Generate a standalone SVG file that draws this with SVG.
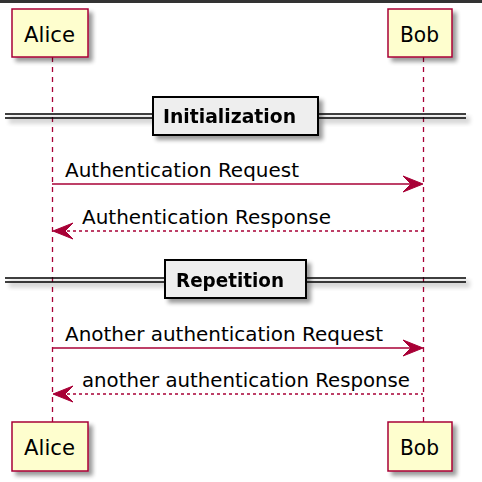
<svg xmlns="http://www.w3.org/2000/svg" width="482" height="482" viewBox="0 0 482 482">
<style>
text{font-family:"DejaVu Sans","Liberation Sans",sans-serif;fill:#000}
.p{fill:#FEFECE;stroke:#A80036;stroke-width:1.5}
.pt{font-size:21px}
.life{stroke:#A80036;stroke-width:1.3;stroke-dasharray:5,5}
.msg{stroke:#A80036;stroke-width:1.3;fill:none}
.dash{stroke-dasharray:3,3}
.head{fill:#A80036;stroke:#A80036}
.dl{stroke:#000;stroke-width:1.5;fill:none}
.db{fill:#EEEEEE;stroke:#000;stroke-width:2}
.dt{font-size:19px;font-weight:bold}
.mt{font-size:20px}
</style>
<defs>
<filter id="sh" x="-20%" y="-20%" width="150%" height="150%">
<feGaussianBlur in="SourceAlpha" stdDeviation="2"/>
<feOffset dx="4" dy="4" result="b"/>
<feComponentTransfer><feFuncA type="linear" slope="0.4"/></feComponentTransfer>
<feMerge><feMergeNode/><feMergeNode in="SourceGraphic"/></feMerge>
</filter>
</defs>
<rect x="0" y="0" width="482" height="482" fill="#fff"/>
<rect x="0" y="0" width="482" height="3" fill="#333"/>
<g id="lifelines">
<line class="life" x1="52.5" y1="57" x2="52.5" y2="422"/>
<line class="life" x1="423.5" y1="57" x2="423.5" y2="422"/>
</g>
<g id="alice-top"><rect class="p" x="12" y="9" width="76" height="48" filter="url(#sh)"/><text class="pt" x="24" y="42" textLength="51" lengthAdjust="spacingAndGlyphs">Alice</text></g>
<g id="bob-top"><rect class="p" x="388" y="9" width="64" height="48" filter="url(#sh)"/><text class="pt" x="400" y="42" textLength="39" lengthAdjust="spacingAndGlyphs">Bob</text></g>
<g id="alice-bottom"><rect class="p" x="12" y="422" width="76" height="49" filter="url(#sh)"/><text class="pt" x="24" y="455" textLength="51" lengthAdjust="spacingAndGlyphs">Alice</text></g>
<g id="bob-bottom"><rect class="p" x="388" y="422" width="64" height="49" filter="url(#sh)"/><text class="pt" x="400" y="455" textLength="39" lengthAdjust="spacingAndGlyphs">Bob</text></g>
<g id="div-init" filter="url(#sh)">
<line class="dl" x1="5" y1="114" x2="466" y2="114"/>
<line class="dl" x1="5" y1="118" x2="466" y2="118"/>
<rect class="db" x="153" y="97" width="165" height="38"/>
<text class="dt" x="163" y="123" textLength="133" lengthAdjust="spacingAndGlyphs">Initialization</text>
</g>
<g id="div-rep" filter="url(#sh)">
<line class="dl" x1="5" y1="278" x2="466" y2="278"/>
<line class="dl" x1="5" y1="282" x2="466" y2="282"/>
<rect class="db" x="165" y="260" width="141" height="38"/>
<text class="dt" x="176" y="287" textLength="108" lengthAdjust="spacingAndGlyphs">Repetition</text>
</g>
<g id="connectors">
<line class="msg" x1="52" y1="184" x2="421" y2="184"/>
<polygon class="head" points="423,184 403,176 411,184 403,192"/>
<text class="mt" x="65" y="177" textLength="234" lengthAdjust="spacingAndGlyphs">Authentication Request</text>
<line class="msg dash" x1="55" y1="231" x2="423" y2="231"/>
<polygon class="head" points="53,231 73,223 65,231 73,239"/>
<text class="mt" x="82" y="224" textLength="249" lengthAdjust="spacingAndGlyphs">Authentication Response</text>
<line class="msg" x1="52" y1="348" x2="421" y2="348"/>
<polygon class="head" points="423,348 403,340 411,348 403,356"/>
<text class="mt" x="65" y="341" textLength="318" lengthAdjust="spacingAndGlyphs">Another authentication Request</text>
<line class="msg dash" x1="55" y1="394" x2="423" y2="394"/>
<polygon class="head" points="53,394 73,386 65,394 73,402"/>
<text class="mt" x="82" y="387" textLength="328" lengthAdjust="spacingAndGlyphs">another authentication Response</text>
</g>
</svg>
